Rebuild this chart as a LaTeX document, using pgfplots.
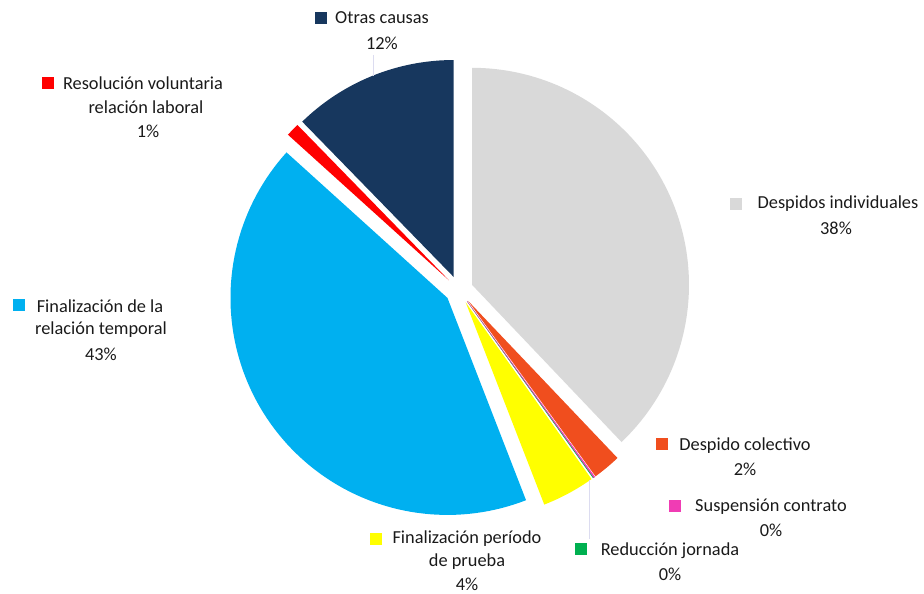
\documentclass[border=0pt]{standalone}
\usepackage{pgfplots}
\pgfplotsset{compat=1.18}
\usepackage{pgfplotstable}
\usepackage{fontspec}
\setmainfont{Carlito}
\definecolor{cGray}{HTML}{D9D9D9}
\definecolor{cOrange}{HTML}{F04E1E}
\definecolor{cPink}{HTML}{F03CB4}
\definecolor{cGreen}{HTML}{00B050}
\definecolor{cYellow}{HTML}{FFFF00}
\definecolor{cBlue}{HTML}{00B0F0}
\definecolor{cRed}{HTML}{FF0000}
\definecolor{cNavy}{HTML}{17375E}
\definecolor{cLeader}{HTML}{DCDCF0}
\definecolor{cText}{HTML}{1A1A1A}

% share of each cause (percent), clockwise from 12 o'clock
\pgfplotstableread{
start value
0     37.9
37.9  2.1
40.0  0.1
40.1  0.05
40.15 3.95
44.1  42.6
86.7  1.0
87.7  12.3
}\piedata

\def\cx{459}\def\cy{304}\def\R{217}\def\ex{14}
\newcommand{\slice}[4][draw=none]{%
  \pgfmathsetmacro{\aS}{90-3.6*#2}%
  \pgfmathsetmacro{\aE}{90-3.6*(#2+#3)}%
  \pgfmathsetmacro{\aM}{(\aS+\aE)/2}%
  \pgfmathsetmacro{\px}{\cx+\ex*cos(\aM)}%
  \pgfmathsetmacro{\py}{\cy+\ex*sin(\aM)}%
  \edef\tmp{\noexpand\addplot[fill=#4,#1,domain=\aE:\aS,samples=90]
    ({\px+\R*cos(x)},{\py+\R*sin(x)}) -- (axis cs:\px,\py) -- cycle;}%
  \tmp
}
\tikzset{lbl/.style={font=\fontsize{18.4}{22}\selectfont, text=cText, inner sep=0pt}}
\pgfplotsset{key/.style={#1, only marks, mark=square*, mark size=5.5bp}}

\begin{document}
\begin{tikzpicture}
\begin{axis}[
  x=1bp, y=1bp,
  xmin=0, xmax=924, ymin=0, ymax=594,
  hide axis, clip=false,
]
\coordinate (bl) at (axis cs:0,0);
\coordinate (tr) at (axis cs:924,594);
\slice{0}{37.9}{cGray}
\slice{37.9}{2.1}{cOrange}
\slice[draw=cPink,line width=0.4pt]{40.0}{0.1}{cPink}
\slice{40.1}{0.05}{cGreen}
\slice{40.15}{3.95}{cYellow}
\slice{44.1}{42.6}{cBlue}
\slice{86.7}{1.0}{cRed}
\slice{87.7}{12.3}{cNavy}

% leader lines
\addplot[cLeader, line width=1pt] coordinates {(373,539) (373,518)};
\addplot[cLeader, line width=1pt] coordinates {(589,114) (589,55)};

% legend keys
\addplot[key=cNavy] coordinates {(321,576)};
\addplot[key=cRed] coordinates {(48,511)};
\addplot[key=cBlue] coordinates {(19,289)};
\addplot[key=cGray] coordinates {(736,390)};
\addplot[key=cOrange] coordinates {(662,150)};
\addplot[key=cPink] coordinates {(675,88)};
\addplot[key=cGreen] coordinates {(581,45)};
\addplot[key=cYellow] coordinates {(376,55)};

% labels
\node[lbl] at (axis cs:382,576) {Otras causas};
\node[lbl] at (axis cs:382,551) {12\%};
\node[lbl] at (axis cs:143,511) {Resolución voluntaria};
\node[lbl] at (axis cs:146,487) {relación laboral};
\node[lbl] at (axis cs:148,463) {1\%};
\node[lbl] at (axis cs:100,288) {Finalización de la};
\node[lbl] at (axis cs:101,264) {relación temporal};
\node[lbl] at (axis cs:101,240) {43\%};
\node[lbl] at (axis cs:838,390) {Despidos individuales};
\node[lbl] at (axis cs:836,366) {38\%};
\node[lbl] at (axis cs:745,148) {Despido colectivo};
\node[lbl] at (axis cs:745,125) {2\%};
\node[lbl] at (axis cs:771,87) {Suspensión contrato};
\node[lbl] at (axis cs:771,64) {0\%};
\node[lbl] at (axis cs:670,43) {Reducción jornada};
\node[lbl] at (axis cs:670,20) {0\%};
\node[lbl] at (axis cs:467,55) {Finalización período};
\node[lbl] at (axis cs:467,32) {de prueba};
\node[lbl] at (axis cs:467,10) {4\%};
\end{axis}
\pgfresetboundingbox
\path[use as bounding box] (bl) rectangle (tr);
\end{tikzpicture}
\end{document}
